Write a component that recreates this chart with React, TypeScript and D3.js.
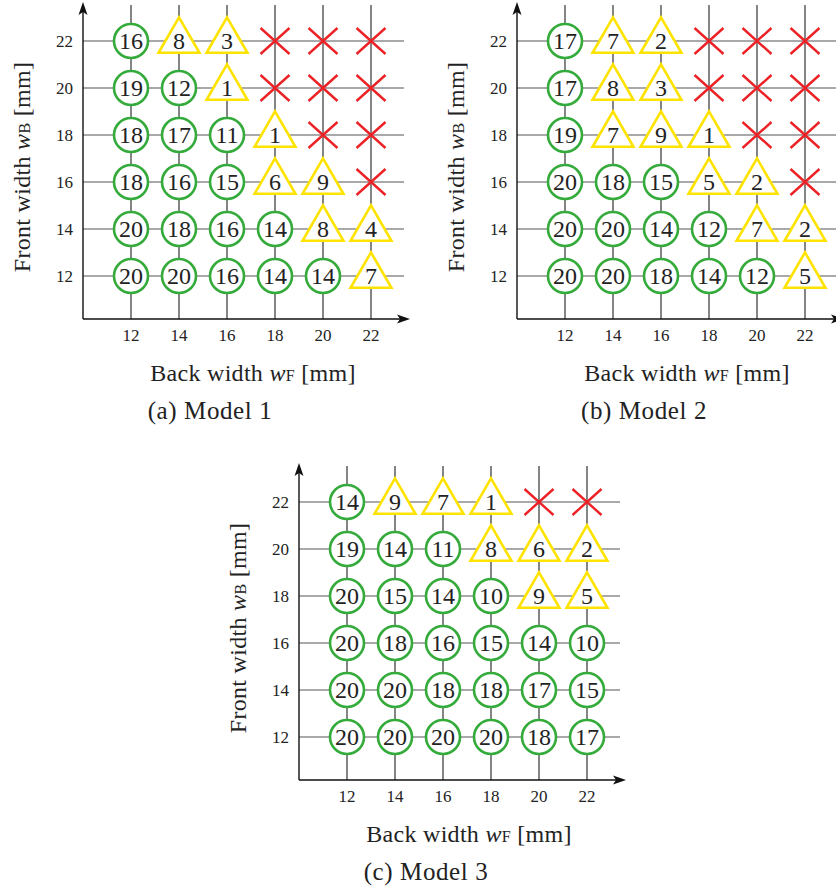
import React, { useEffect, useRef } from "react";
import * as d3 from "d3";

// back width (x) and front width (y) grid values, mm
const backWidths = [12, 14, 16, 18, 20, 22];
const frontWidths = [22, 20, 18, 16, 14, 12];
const tickLabels = ["12", "14", "16", "18", "20", "22"];

// rows follow frontWidths (22 -> 12), columns follow backWidths; null = failed (cross)
const model1 = [
  [16, 8, 3, null, null, null],
  [19, 12, 1, null, null, null],
  [18, 17, 11, 1, null, null],
  [18, 16, 15, 6, 9, null],
  [20, 18, 16, 14, 8, 4],
  [20, 20, 16, 14, 14, 7],
];
const model2 = [
  [17, 7, 2, null, null, null],
  [17, 8, 3, null, null, null],
  [19, 7, 9, 1, null, null],
  [20, 18, 15, 5, 2, null],
  [20, 20, 14, 12, 7, 2],
  [20, 20, 18, 14, 12, 5],
];
const model3 = [
  [14, 9, 7, 1, null, null],
  [19, 14, 11, 8, 6, 2],
  [20, 15, 14, 10, 9, 5],
  [20, 18, 16, 15, 14, 10],
  [20, 20, 18, 18, 17, 15],
  [20, 20, 20, 20, 18, 17],
];
const captions = ["(a) Model 1", "(b) Model 2", "(c) Model 3"];

const FONT = "'Liberation Serif', 'DejaVu Serif', serif";
const GREEN = "#35ab3c";
const YELLOW = "#ffe300";
const RED = "#ec2227";
const INK = "#222";

function drawPanel(svg, data, caption, ox, oy) {
  const g = svg.append("g");
  const x = d3.scaleLinear().domain([12, 22]).range([ox + 48, ox + 288]);
  const y = d3.scaleLinear().domain([12, 22]).range([oy - 43, oy - 278]);

  // grid
  g.selectAll("line.h")
    .data(frontWidths)
    .join("line")
    .attr("x1", ox).attr("x2", ox + 321)
    .attr("y1", d => y(d)).attr("y2", d => y(d))
    .attr("stroke", "#555").attr("stroke-width", 1.2);
  g.selectAll("line.v")
    .data(backWidths)
    .join("line")
    .attr("x1", d => x(d)).attr("x2", d => x(d))
    .attr("y1", oy).attr("y2", oy - 314)
    .attr("stroke", "#333").attr("stroke-width", 1.2);

  // axes with stealth arrows
  g.append("line").attr("x1", ox).attr("x2", ox).attr("y1", oy).attr("y2", oy - 308)
    .attr("stroke", "#111").attr("stroke-width", 1.4);
  g.append("line").attr("x1", ox).attr("x2", ox + 318).attr("y1", oy).attr("y2", oy)
    .attr("stroke", "#111").attr("stroke-width", 1.4);
  g.append("path")
    .attr("d", `M${ox},${oy - 317} L${ox + 4.5},${oy - 304} L${ox},${oy - 307} L${ox - 4.5},${oy - 304} Z`)
    .attr("fill", "#111");
  g.append("path")
    .attr("d", `M${ox + 327},${oy} L${ox + 314},${oy - 4.5} L${ox + 317},${oy} L${ox + 314},${oy + 4.5} Z`)
    .attr("fill", "#111");

  // tick labels
  g.selectAll("text.yt")
    .data(frontWidths)
    .join("text")
    .attr("x", ox - 10).attr("y", d => y(d))
    .attr("dy", "0.35em").attr("text-anchor", "end")
    .attr("font-family", FONT).attr("font-size", 17).attr("fill", INK)
    .text(d => tickLabels[backWidths.indexOf(d)]);
  g.selectAll("text.xt")
    .data(backWidths)
    .join("text")
    .attr("x", d => x(d)).attr("y", oy + 16)
    .attr("dy", "0.35em").attr("text-anchor", "middle")
    .attr("font-family", FONT).attr("font-size", 17).attr("fill", INK)
    .text((d, i) => tickLabels[i]);

  // axis labels
  const xl = g.append("text")
    .attr("x", ox + 170).attr("y", oy + 54).attr("dy", "0.35em")
    .attr("text-anchor", "middle").attr("font-family", FONT).attr("font-size", 24)
    .attr("letter-spacing", 0.3).attr("fill", INK);
  xl.append("tspan").text("Back width ");
  xl.append("tspan").attr("font-style", "italic").text("w");
  xl.append("tspan").attr("font-size", 16).text("F");
  xl.append("tspan").text(" [mm]");

  const yl = g.append("text")
    .attr("transform", `translate(${ox - 61},${oy - 152}) rotate(-90)`)
    .attr("dy", "0.35em")
    .attr("text-anchor", "middle").attr("font-family", FONT).attr("font-size", 24)
    .attr("letter-spacing", 0.3).attr("fill", INK);
  yl.append("tspan").text("Front width ");
  yl.append("tspan").attr("font-style", "italic").text("w");
  yl.append("tspan").attr("font-size", 16).text("B");
  yl.append("tspan").text(" [mm]");

  g.append("text")
    .attr("x", ox + 127).attr("y", oy + 91).attr("dy", "0.35em")
    .attr("text-anchor", "middle").attr("font-family", FONT).attr("font-size", 25)
    .attr("letter-spacing", 0.6).attr("fill", INK)
    .text(caption);

  // cells
  const cells = [];
  data.forEach((row, r) => row.forEach((v, c) => cells.push({ fw: frontWidths[r], bw: backWidths[c], v })));

  const circle = d3.symbol().type(d3.symbolCircle).size(Math.PI * 17 * 17);
  const tri = d3.symbol().type(d3.symbolTriangle).size(11.8 * 11.8 * 3 * Math.sqrt(3));

  const marks = g.selectAll("g.cell")
    .data(cells)
    .join("g")
    .attr("transform", d => `translate(${x(d.bw)},${y(d.fw)})`);

  marks.filter(d => d.v === null)
    .append("path")
    .attr("d", "M-14.5,-13 L14.5,13 M-14.5,13 L14.5,-13")
    .attr("stroke", RED).attr("stroke-width", 2.4).attr("fill", "none");

  marks.filter(d => d.v !== null)
    .append("path")
    .attr("d", d => (d.v >= 10 ? circle() : tri()))
    .attr("fill", "white")
    .attr("stroke", d => (d.v >= 10 ? GREEN : YELLOW))
    .attr("stroke-width", 2.6);

  marks.filter(d => d.v !== null)
    .append("text")
    .attr("text-anchor", "middle").attr("dy", "0.35em")
    .attr("font-family", FONT).attr("font-size", 24).attr("fill", INK)
    .text(d => d.v);
}

export default function App() {
  const ref = useRef(null);
  useEffect(() => {
    const svg = d3.select(ref.current);
    svg.selectAll("*").remove();
    svg.append("rect").attr("width", 836).attr("height", 891).attr("fill", "white");
    drawPanel(svg, model1, captions[0], 83, 319);
    drawPanel(svg, model2, captions[1], 517, 319);
    drawPanel(svg, model3, captions[2], 299, 780);
  }, []);
  return (
    <div style={{ position: "absolute", left: 0, top: 0 }}>
      <svg ref={ref} width={836} height={891} style={{ display: "block" }}></svg>
    </div>
  );
}
